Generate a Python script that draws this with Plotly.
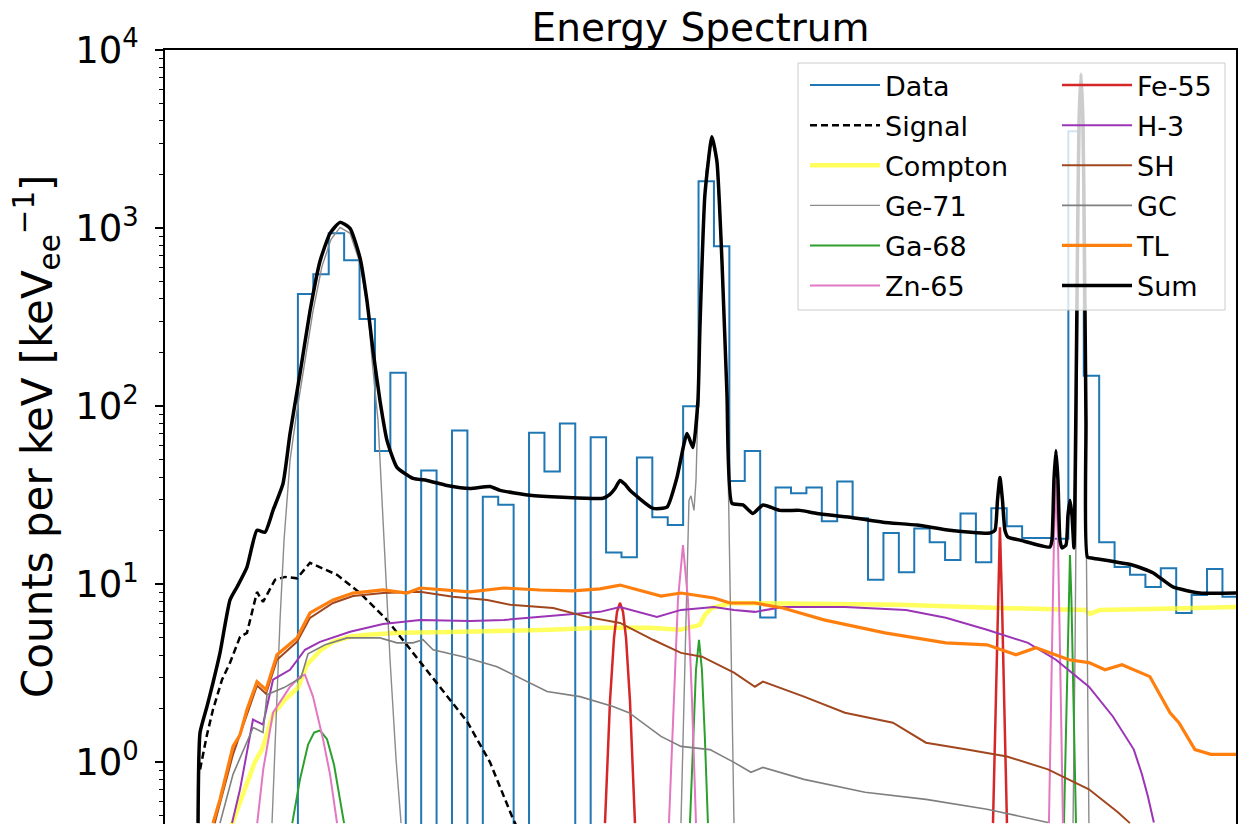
import numpy as np
import plotly.graph_objects as go

# ---------------- data (energy in arbitrary keV-like units, counts per keV) -------------
bin_start = 1.8
bin_width = 0.2
data_counts = [426, 551, 935, 660, 309, 56, 154, 0, 43.5, 0, 73, 0, 31, 28, 0, 71, 43, 80, 0, 67,
               15.1, 14.2, 51.5, 23.8, 21.5, 100, 1830, 790, 38, 56, 6.5, 35, 32.4, 35, 22.6, 37.8,
               23.5, 10.6, 19.4, 11.7, 20.6, 17.2, 13.7, 25, 13.3, 26.7, 21.2, 18.2, 18.2, 18,
               3500, 148, 17.2, 12.5, 11.3, 9.65, 12.3, 6.9, 8.7, 12.2, 8.5]

sum_x = [0.504, 0.530, 0.620, 0.698, 0.789, 0.919, 1.010, 1.139, 1.269, 1.373, 1.477, 1.607, 1.698,
         1.827, 1.957, 2.087, 2.217, 2.347, 2.477, 2.607, 2.697, 2.775, 2.866, 2.957, 3.086, 3.294,
         3.476, 3.735, 4.034, 4.293, 4.423, 4.812, 5.240, 5.760, 5.850, 5.916, 5.981, 6.046, 6.110,
         6.409, 6.590, 6.720, 6.850, 6.928, 6.992, 7.018, 7.083, 7.174, 7.239, 7.304, 7.369, 7.434,
         7.576, 7.706, 7.836, 8.057, 8.316, 8.537, 8.965, 9.394, 9.835, 10.263, 10.782, 10.847,
         10.880, 10.912, 10.945, 10.977, 11.016, 11.172, 11.561, 11.587, 11.613, 11.639, 11.665,
         11.691, 11.717, 11.769, 11.795, 11.821, 11.847, 11.873, 11.899, 11.918, 11.938, 11.964,
         11.990, 12.009, 12.029, 12.048, 12.119, 12.638, 12.898, 13.157, 13.508, 14.01]
sum_y = [0.456, 1.47, 2.06, 2.80, 4.12, 8.17, 9.66, 12.5, 20.1, 19.6, 26.0, 36.8, 70.2, 152, 342,
         652, 935, 1077, 997, 677, 389, 205, 107, 64.1, 45.3, 39.3, 38.3, 35.9, 34.5, 35.4, 33.7,
         31.6, 30.8, 30.4, 32, 34.5, 38.3, 36.4, 33.7, 26.7, 27.1, 39.8, 70.2, 58.6, 107, 275, 1545,
         3260, 2362, 652, 117, 28.5, 27.9, 25.0, 27.9, 26.0, 26.0, 25.0, 23.8, 22.3, 21.5, 20.1,
         19.4, 20.1, 29.6, 39.8, 29.6, 20.1, 18.4, 17.7, 16.2, 17.7, 38.3, 56.4, 38.3, 17.7, 16.0,
         16.6, 24.4, 29.6, 24.4, 16.0, 107, 741, 3955, 7340, 3955, 741, 83, 14.2, 14.0, 12.8, 11.6,
         9.66, 8.93, 8.93]

signal_x = [0.530, 0.620, 0.698, 0.815, 0.919, 1.049, 1.139, 1.269, 1.347, 1.503, 1.633, 1.788,
            1.957, 2.308, 2.607, 2.957, 3.294, 3.645, 3.995, 4.294, 4.593, 4.660]
signal_y = [0.913, 1.43, 1.98, 2.91, 3.63, 5.07, 5.34, 9.05, 7.96, 10.6, 11.0, 10.8, 13.2, 11.3,
            8.93, 6.31, 4.12, 2.66, 1.70, 1.0, 0.48, 0.42]

compton_x = [0.906, 1.088, 1.243, 1.334, 1.477, 1.633, 1.801, 1.918, 2.087, 2.256, 2.477, 2.697,
             3.125, 3.774, 4.423, 5.072, 5.721, 6.370, 6.759, 7.018, 7.083, 7.174, 7.408, 8.316,
             9.614, 10.912, 12.015, 12.08, 12.21, 12.86, 14.01]
compton_y = [0.406, 0.66, 1.01, 1.18, 1.86, 2.25, 2.63, 3.54, 4.24, 4.75, 5.07, 5.2, 5.34, 5.4,
             5.47, 5.55, 5.7, 5.7, 5.55, 5.92, 6.73, 7.36, 7.85, 7.77, 7.68, 7.36, 7.18, 6.82,
             7.18, 7.27, 7.46]

ge71_x = [1.464, 1.516, 1.568, 1.620, 1.698, 1.788, 1.892, 1.996, 2.113, 2.230, 2.347, 2.477,
          2.607, 2.711, 2.763, 2.840, 2.918, 2.996, 3.074, 3.139, None,
          6.772, 6.811, 6.85, 6.876, 6.902, 6.941, 6.967, 7.005, 7.044, 7.096, 7.174, 7.239,
          7.304, 7.369, 7.408, 7.434, 7.460, None,
          11.861, 11.887, 11.913, 11.938, 11.964, 11.990, 12.016, 12.042, 12.067]
ge71_y = [0.456, 1.74, 6.31, 17.7, 49.6, 94.4, 175, 342, 611, 865, 1010, 935, 635, 342, 180, 83,
          17.7, 3.77, 1.04, 0.456, None,
          0.456, 2.25, 13.7, 29.6, 31.4, 26.0, 38.3, 139, 652, 2077, 3177, 2300, 611, 107, 13.7,
          2.25, 0.456, None,
          0.456, 4.29, 107, 1828, 6795, 1828, 107, 4.29, 0.456]

ga68_x = [1.727, 1.827, 1.932, 2.01, 2.087, 2.178, 2.269, 2.347, 2.399, None,
          6.889, 6.928, 6.967, 7.006, 7.044, 7.083, 7.122, None,
          11.743, 11.775, 11.801, 11.821, 11.840, 11.866, 11.899]
ga68_y = [0.456, 0.803, 1.26, 1.47, 1.51, 1.35, 0.97, 0.621, 0.456, None,
          0.456, 1.35, 3.31, 4.88, 3.31, 1.35, 0.456, None,
          0.456, 2.25, 8.17, 14.6, 8.17, 2.25, 0.456]

zn65_x = [1.272, 1.35, 1.477, 1.698, 1.827, 1.892, 1.996, 2.126, 2.217, 2.308, None,
          6.616, 6.681, 6.733, 6.798, 6.863, 6.915, 6.967, None,
          11.548, 11.587, 11.613, 11.639, 11.665, 11.691, 11.730]
zn65_y = [0.456, 0.913, 1.90, 2.66, 3.03, 3.10, 2.34, 1.35, 0.857, 0.456, None,
          0.456, 2.25, 8.17, 16.6, 8.17, 2.25, 0.456, None,
          0.456, 4.29, 17.7, 38.3, 17.7, 4.29, 0.456]

fe55_x = [5.786, 5.851, 5.903, 5.942, 5.981, 6.020, 6.059, 6.110, 6.175, None,
          10.822, 10.86, 10.886, 10.912, 10.938, 10.964, 11.003]
fe55_y = [0.456, 2.22, 5.0, 7.0, 7.85, 7.0, 5.0, 2.22, 0.456, None,
          0.456, 2.25, 8.17, 20.9, 8.17, 2.25, 0.456]

h3_x = [0.945, 1.049, 1.217, 1.347, 1.477, 1.698, 1.892, 2.087, 2.477, 2.905, 3.385, 4.034, 4.475,
        4.942, 5.371, 5.721, 5.981, 6.460, 6.772, 7.200, 7.460, 7.732, 8.095, 8.900, 9.692, 10.21,
        10.744, 11.276, 11.639, 12.067, 12.378, 12.65, 12.755, 12.832, 12.91]
h3_y = [0.456, 0.706, 1.74, 1.63, 2.91, 3.31, 4.29, 4.75, 5.41, 5.99, 6.31, 6.23, 6.31, 6.56, 6.82,
        7.0, 7.46, 6.56, 7.18, 7.46, 7.18, 7.0, 7.46, 7.46, 7.18, 6.48, 5.55, 4.69, 3.77, 2.66,
        1.81, 1.18, 0.857, 0.645, 0.46]

sh_x = [0.72, 0.958, 1.139, 1.269, 1.386, 1.529, 1.788, 1.957, 2.256, 2.516, 2.905, 3.385, 3.813,
        4.258, 4.556, 5.114, 5.552, 5.981, 6.409, 6.772, 7.045, 7.460, 7.732, 7.836, 8.369, 8.900,
        9.523, 9.952, 10.484, 11.003, 11.535, 12.067, 12.443, 12.599]
sh_y = [0.456, 1.11, 1.86, 2.70, 2.43, 3.77, 4.75, 6.48, 7.85, 8.59, 8.93, 9.07, 8.51, 8.17, 7.68,
        7.36, 6.56, 6.07, 4.88, 4.12, 3.92, 3.19, 2.66, 2.84, 2.34, 1.90, 1.67, 1.29, 1.18, 1.08,
        0.913, 0.706, 0.525, 0.456]

gc_x = [0.789, 0.958, 1.219, 1.347, 1.399, 1.62, 1.84, 1.932, 2.153, 2.439, 2.866, 3.086, 3.294,
        3.424, 3.554, 3.943, 4.385, 4.813, 5.034, 5.462, 5.89, 6.097, 6.513, 6.772, 7.148, 7.460,
        7.68, 7.836, 8.369, 9.161, 9.952, 10.744, 11.535]
gc_y = [0.456, 0.857, 1.57, 1.47, 2.40, 2.63, 2.99, 4.07, 4.57, 5.0, 5.0, 4.69, 4.69, 4.88, 4.29,
        3.92, 3.44, 2.80, 2.50, 2.34, 2.06, 1.90, 1.40, 1.23, 1.18, 1.0, 0.88, 0.937, 0.803, 0.68,
        0.62, 0.546, 0.46]

tl_x = [0.698, 0.789, 0.958, 1.049, 1.139, 1.269, 1.386, 1.529, 1.788, 1.957, 2.256, 2.516, 2.905,
        3.216, 3.385, 4.034, 4.475, 4.942, 5.371, 5.721, 5.981, 6.513, 6.772, 7.200, 7.408, 7.732,
        8.095, 8.627, 9.419, 10.21, 10.744, 11.12, 11.380, 11.808, 12.067, 12.275, 12.496, 12.859,
        13.12, 13.235, 13.443, 13.65, 14.01]
tl_y = [0.456, 0.62, 1.23, 1.43, 1.98, 2.84, 2.56, 4.02, 5.0, 6.9, 8.17, 8.93, 9.29, 8.93, 9.53,
        9.07, 9.53, 9.29, 9.18, 9.42, 9.9, 8.59, 8.93, 8.38, 7.85, 7.85, 7.36, 6.31, 5.34, 4.69,
        4.57, 4.02, 4.40, 3.77, 3.63, 3.31, 3.53, 3.03, 1.90, 1.67, 1.18, 1.11, 1.11]

ytick_vals = [1, 10, 100, 1000, 10000]
ytick_text = ['10<sup>0</sup>', '10<sup>1</sup>', '10<sup>2</sup>', '10<sup>3</sup>', '10<sup>4</sup>']
y_title = 'Counts per keV [keV<sub>ee</sub><sup>\u22121</sup>]'

# ---------------- figure -------------
FONT = 'DejaVu Sans'
counts = np.array(data_counts, dtype=float)
edges = bin_start + bin_width * np.arange(len(counts) + 1)
floor = 1e-3  # empty bins fall below the axis
step_y = np.where(counts > 0, counts, floor)
hist_x = np.concatenate([[edges[0]], edges])
hist_y = np.concatenate([[floor], step_y, [step_y[-1]]])

fig = go.Figure()

def add(x, y, name, color, width, legend, dash='solid', shape='linear', smoothing=None):
    line = dict(color=color, width=width, dash=dash, shape=shape)
    if smoothing is not None:
        line['smoothing'] = smoothing
    fig.add_trace(go.Scatter(x=x, y=y, mode='lines', name=name, legend=legend, legendgroup=name,
                             line=line, connectgaps=False, hoverinfo='skip'))

add(hist_x, hist_y, 'Data', '#1f77b4', 2, 'legend', shape='hv')
add(signal_x, signal_y, 'Signal', 'black', 2.5, 'legend', dash='7px,4px')
add(compton_x, compton_y, 'Compton', 'rgba(255,255,40,0.75)', 4.5, 'legend')
add(ge71_x, ge71_y, 'Ge-71', '#8c8c8c', 1.4, 'legend')
add(ga68_x, ga68_y, 'Ga-68', '#2ca02c', 2, 'legend')
add(zn65_x, zn65_y, 'Zn-65', '#e377c2', 2, 'legend')
add(fe55_x, fe55_y, 'Fe-55', '#d62728', 2.5, 'legend2')
add(h3_x, h3_y, 'H-3', '#9b35b5', 2, 'legend2')
add(sh_x, sh_y, 'SH', '#a0471f', 2, 'legend2')
add(gc_x, gc_y, 'GC', '#7f7f7f', 1.6, 'legend2')
add(tl_x, tl_y, 'TL', '#ff7f0e', 3.2, 'legend2')
add(sum_x, sum_y, 'Sum', 'black', 3.5, 'legend2', shape='spline', smoothing=0.5)

# layout in screen pixels (page body margin removed below)
W, H = 1239, 824
PL, PT, PR, PB = 165, 50, 1236, 824          # plot area
pw, ph = PR - PL, PB - PT

def px2paper_x(sx):
    return (sx - PL) / pw

def px2paper_y(sy):
    return 1 - (sy - PT) / ph

minor_vals = [k * 10.0 ** p for p in range(-1, 4) for k in range(2, 10)]

legend_common = dict(bgcolor='rgba(0,0,0,0)', borderwidth=0, xanchor='left', yanchor='top',
                     font=dict(family=FONT, size=27, color='black'), itemwidth=70,
                     tracegroupgap=2, traceorder='grouped')

fig.update_layout(
    width=W, height=H,
    margin=dict(l=PL, r=W - PR, t=PT, b=H - PB, pad=0),
    paper_bgcolor='white', plot_bgcolor='white',
    font=dict(family=FONT, color='black'),
    showlegend=True,
    title=dict(text='Energy Spectrum', x=0.5, xref='paper', xanchor='center',
               y=1 - 27 / H, yref='container', yanchor='middle',
               font=dict(family=FONT, size=39, color='black')),
    xaxis=dict(range=[0.075, 13.976], showticklabels=False, ticks='', showgrid=False,
               zeroline=False, showline=True, mirror=True, linecolor='black', linewidth=1.5),
    yaxis=dict(type='log', range=[-0.346, 4], tickmode='array', tickvals=ytick_vals,
               ticktext=ytick_text, ticks='outside', ticklen=8, tickwidth=1.5, tickcolor='black',
               tickfont=dict(family=FONT, size=37, color='black'), ticklabelstandoff=9,
               minor=dict(tickvals=minor_vals, ticks='outside', ticklen=4, tickwidth=1,
                          tickcolor='black', showgrid=False),
               showgrid=False, zeroline=False, showline=True, mirror=True,
               linecolor='black', linewidth=1.5),
    legend=dict(x=px2paper_x(805), y=px2paper_y(61), **legend_common),
    legend2=dict(x=px2paper_x(1057), y=px2paper_y(61), **legend_common),
    shapes=[dict(type='rect', xref='paper', yref='paper', layer='above',
                 x0=px2paper_x(798), x1=px2paper_x(1225), y0=px2paper_y(310), y1=px2paper_y(63),
                 fillcolor='rgba(255,255,255,0.8)', line=dict(color='#cccccc', width=1))],
    annotations=[dict(text=y_title, xref='paper', yref='paper', x=px2paper_x(37),
                      y=px2paper_y(436), xanchor='center', yanchor='middle', textangle=-90,
                      showarrow=False, font=dict(family=FONT, size=42, color='black'))],
)

fig.write_html('out.html', config={'displayModeBar': False},
               post_script="document.body.style.margin='0px';document.body.style.overflow='hidden';")
